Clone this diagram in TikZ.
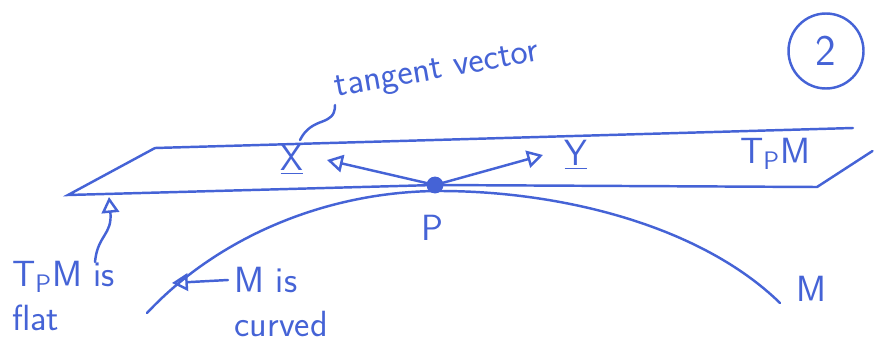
\documentclass[tikz,border=0pt]{standalone}
\usepackage{xcolor}
\usetikzlibrary{arrows.meta,positioning,calc}
\definecolor{penblue}{HTML}{4563D6}

\begin{document}
\begin{tikzpicture}[>={Triangle[open,length=9pt,width=10pt]}, line width=1.4pt, penblue, font=\sffamily\huge, line cap=round]
  \useasboundingbox (0,0) rectangle (17.52,-6.84);
  % tangent plane
  \coordinate (planeTL) at (3.10,-2.96);
  \coordinate (planeTR) at (17.06,-2.56);
  \coordinate (planeBL) at (1.36,-3.90);
  \coordinate (planeBR) at (16.34,-3.74);
  \coordinate (planeR) at (17.45,-3.02);
  \node[circle, fill, inner sep=3.4pt] (p) at (8.70,-3.70) {};
  \draw (planeTL) -- (planeTR);
  \draw (planeTL) -- (planeBL) -- (p.center) -- (planeBR) -- (planeR);
  % manifold
  \coordinate (curveL) at (2.94,-6.26);
  \coordinate (curveR) at (15.60,-6.06);
  \draw (curveL) .. controls (4.40,-4.70) and (6.60,-3.82) .. (8.80,-3.82)
    .. controls (11.20,-3.82) and (14.00,-4.50) .. (curveR);
  \node (plab) at (8.64,-4.56) {P};
  \node (mlab) at (16.22,-5.78) {M};
  % tangent vectors
  \node (xlab) at (5.84,-3.20) {\underline{X}};
  \node (ylab) at (11.52,-3.10) {\underline{Y}};
  \coordinate (xtip) at (6.54,-3.20);
  \coordinate (ytip) at (10.86,-3.10);
  \draw[->] (p.center) -- (xtip);
  \draw[->] (p.center) -- (ytip);
  \node[rotate=10] (tanlab) at (8.75,-1.45) {tangent vector};
  \draw (6.70,-2.10) .. controls (6.70,-2.55) and (6.25,-2.30) .. (6.0,-2.80);
  \node (tpm) at (15.50,-3.08) {T\textsubscript{P}M};
  \node[circle, draw, inner sep=2pt, minimum size=1.5cm, font=\sffamily\Huge] (pagenum) at (16.52,-1.02) {2};
  % annotations
  \node[align=left, anchor=west] (flatlab) at (0.10,-5.92) {T\textsubscript{P}M is\\flat};
  \coordinate (flattip) at (2.18,-3.94);
  \draw[->] (1.90,-5.24) .. controls (1.95,-4.7) and (2.25,-4.7) .. (flattip);
  \node[align=left, anchor=west] (curvedlab) at (4.55,-6.04) {M is\\curved};
  \coordinate (curvedtip) at (3.44,-5.66);
  \draw[->] (4.56,-5.60) -- (curvedtip);
\end{tikzpicture}
\end{document}
